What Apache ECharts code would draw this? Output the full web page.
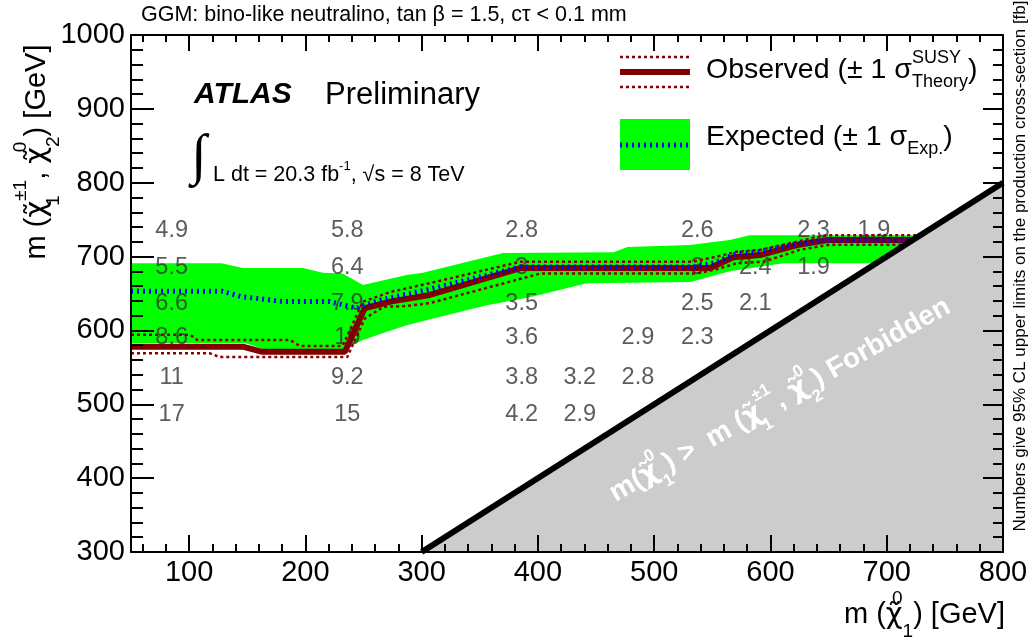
<!DOCTYPE html>
<html><head><meta charset="utf-8">
<script src="https://cdn.jsdelivr.net/npm/echarts@6/dist/echarts.min.js"></script>
<style>html,body{margin:0;padding:0;background:#fff;}#c{width:1036px;height:641px;}</style>
</head><body><div id="c"></div>
<script>
const FF = "'Liberation Sans', Arial, Helvetica, sans-serif";
// ---- data ----
const xMajorTicks = [100,200,300,400,500,600,700,800];
const xMinorTicks = [60,80,120,140,160,180,220,240,260,280,320,340,360,380,420,440,460,480,520,540,560,580,620,640,660,680,720,740,760,780];
const observed = [[50,578],[146,578],[163,571],[234,571],[251,630],[273,639],[307,648],[385,684.5],[548,684.5],[568,699],[591,702],[623,715.6],[649,722.4],[722.4,722.4]];
const observedUp = [[50,594],[101,594],[107,587],[187,587],[195,579],[232,579],[249.5,639],[273,652],[307,664],[385,693],[533,693],[554,700],[571,706.6],[591,709],[622.5,720],[648,729],[729,729]];
const observedDown = [[50,569],[118,569],[126,564],[236,564],[251,616],[267,632],[287,633],[307,637],[402,677],[536,677],[554,683],[571,691],[594,693],[625,709],[651,716],[716,716]];
const expected = [[50,653],[129,653],[144,646],[181,639],[221,639],[244,630],[250,634],[264,641],[307,656],[385,686],[533,686],[551,691],[571,704],[591,707],[622,717],[645,722],[722,722]];
const bandUpper = [[50,691],[128,691],[146,684.5],[198,684.5],[215,678],[232,677],[249.5,661.5],[287,675],[301,678],[370,705],[465,706],[477,713],[531,715.6],[551,719.7],[565,722.4],[582,729],[729,729]];
const bandLower = [[50,583],[148,583],[163.5,575],[234,575],[249.5,587],[267,596.5],[287,607],[322,621],[356,634],[393,645],[442,664],[531,665.6],[565,680],[611,691],[691,691]];
const forbiddenRegion = [[300,300],[800,800],[800,300]];
const forbiddenEdge = [[300,300],[800,800]];
const limitLabels = [
 [85,735,'4.9'],[236,735,'5.8'],[386,735,'2.8'],[537,735,'2.6'],[637,735,'2.3'],[689,735,'1.9'],
 [85,685,'5.5'],[236,685,'6.4'],[386,685,'3'],[537,685,'3'],[587,685,'2.4'],[637,685,'1.9'],
 [85,636,'6.6'],[236,636,'7.9'],[386,636,'3.5'],[537,636,'2.5'],[587,636,'2.1'],
 [85,590,'8.6'],[236,590,'10'],[386,590,'3.6'],[486,590,'2.9'],[537,590,'2.3'],
 [85,536,'11'],[236,536,'9.2'],[386,536,'3.8'],[436,536,'3.2'],[486,536,'2.8'],
 [85,486,'17'],[236,486,'15'],[386,486,'4.2'],[436,486,'2.9']
];
// ---- helpers ----
const CHIFF = "'DejaVu Sans', sans-serif";
function richSet(base, small, extra){
  const s = Object.assign({fontSize: small, lineHeight: small, fontFamily: FF}, extra||{});
  return {
    sup: Object.assign({}, s, {verticalAlign:'top'}),
    sub: Object.assign({}, s, {verticalAlign:'bottom'}),
    supz: Object.assign({}, s, {verticalAlign:'top', width:0.01}),
    subz: Object.assign({}, s, {verticalAlign:'bottom', width:0.01}),
    chi: Object.assign({}, extra||{}, {fontSize: base, fontFamily: CHIFF})
  };
}
const CHI = '{chi|χ\u0303}';
const blackAxis = {color:'#000', width:2};
function xAx(pos, len, vals, showLine, showLabel){
  return {type:'value', min:50, max:800, position:pos, z:10,
    axisLine:{show:showLine, onZero:false, lineStyle:blackAxis},
    axisTick:{show:true, inside:true, length:len, customValues:vals, lineStyle:blackAxis},
    axisLabel:{show:showLabel, customValues:vals, fontSize:29, color:'#000', fontFamily:FF, margin:6},
    splitLine:{show:false}};
}
function yAx(pos, len, mlen, showLabel){
  return {type:'value', min:300, max:1000, interval:100, position:pos, z:10,
    axisLine:{show:true, onZero:false, lineStyle:blackAxis},
    axisTick:{show:true, inside:true, length:len, lineStyle:blackAxis},
    minorTick:{show:true, splitNumber:5, length:mlen, lineStyle:blackAxis},
    axisLabel:{show:showLabel, formatter:v => String(v), fontSize:29, color:'#000', fontFamily:FF, margin:6},
    splitLine:{show:false}};
}
function polySeries(getPts, color, z){
  return {type:'custom', z:z, silent:true, clip:true, data:[[50,300]],
    renderItem:function(params, api){
      const pts = getPts().map(p => api.coord(p));
      return {type:'polygon', shape:{points:pts}, style:{fill:color}};
    }};
}
function lineSeries(data, color, width, dash, z){
  return {type:'line', data:data, z:z, symbol:'none', silent:true, clip:true,
    lineStyle:{color:color, width:width, type:dash||'solid'}};
}
const chart = echarts.init(document.getElementById('c'), null, {renderer:'canvas'});
const option = {
  animation:false,
  backgroundColor:'#fff',
  grid:{left:131, top:35, width:872, height:517, containLabel:false},
  xAxis:[xAx('bottom',17,xMajorTicks,true,true), xAx('bottom',8,xMinorTicks,false,false),
         xAx('top',16,xMajorTicks,true,false), xAx('top',7,xMinorTicks,false,false)],
  yAxis:[yAx('left',23,12,true), yAx('right',20,10,false)],
  series:[
    polySeries(() => bandUpper.concat(bandLower.slice().reverse()), '#00ff00', 1),
    polySeries(() => forbiddenRegion, '#cccccc', 1),
    {type:'scatter', z:3, silent:true, symbolSize:1, itemStyle:{color:'rgba(0,0,0,0)'},
     data:limitLabels,
     label:{show:true, position:'inside', formatter:p => limitLabels[p.dataIndex][2],
            fontSize:23.5, color:'#333', fontFamily:FF}},
    lineSeries(observed, '#800000', 6, 'solid', 4),
    lineSeries(observedUp, '#8b0000', 2.5, [3,3], 5),
    lineSeries(observedDown, '#8b0000', 2.5, [3,3], 5),
    lineSeries(expected, '#0000ff', 5, [2,4], 6),
    lineSeries(forbiddenEdge, '#000', 6, 'solid', 7)
  ],
  graphic:[
    {type:'text', z:20, style:{x:141, y:15, text:'GGM: bino-like neutralino, tan β = 1.5, cτ < 0.1 mm', fontSize:21.5, fontFamily:FF, fill:'#000', verticalAlign:'middle'}},
    {type:'text', z:20, style:{x:194, y:95, text:'ATLAS', fontSize:30, fontWeight:'bold', fontStyle:'italic', fontFamily:FF, fill:'#000', verticalAlign:'middle'}},
    {type:'text', z:20, style:{x:325, y:95, text:'Preliminary', fontSize:31, fontFamily:FF, fill:'#000', verticalAlign:'middle'}},
    {type:'text', z:20, style:{x:191, y:158, text:'∫', fontSize:56, fontFamily:"'Liberation Serif', serif", fill:'#000', verticalAlign:'middle'}},
    {type:'text', z:20, style:{x:213, y:175, text:'L dt = 20.3 fb{sup|-1}, √s = 8 TeV', fontSize:21.5, lineHeight:30, fontFamily:FF, fill:'#000', verticalAlign:'middle', rich:richSet(21.5,13,{fill:'#000'})}},
    // legend
    {type:'line', z:20, shape:{x1:620,y1:57,x2:690,y2:57}, style:{stroke:'#8b0000', lineWidth:2.5, lineDash:[3,3]}},
    {type:'line', z:20, shape:{x1:620,y1:72,x2:690,y2:72}, style:{stroke:'#800000', lineWidth:6}},
    {type:'line', z:20, shape:{x1:620,y1:87,x2:690,y2:87}, style:{stroke:'#8b0000', lineWidth:2.5, lineDash:[3,3]}},
    {type:'text', z:20, style:{x:706, y:70, text:'Observed (± 1 σ{supz|SUSY}{sub|Theory})', fontSize:28.5, lineHeight:42, fontFamily:FF, fill:'#000', verticalAlign:'middle', rich:richSet(28.5,18,{fill:'#000'})}},
    {type:'rect', z:20, shape:{x:620,y:119,width:70,height:51}, style:{fill:'#00ff00'}},
    {type:'line', z:21, shape:{x1:620,y1:145,x2:690,y2:145}, style:{stroke:'#0000ff', lineWidth:5, lineDash:[2,4]}},
    {type:'text', z:20, style:{x:706, y:137, text:'Expected (± 1 σ{sub|Exp.})', fontSize:28.5, lineHeight:42, fontFamily:FF, fill:'#000', verticalAlign:'middle', rich:richSet(28.5,18,{fill:'#000'})}},
    // axis titles
    {type:'text', z:20, x:1005, y:615, style:{x:0, y:0, text:'m ('+CHI+'{supz|0}{sub|1}) [GeV]', fontSize:29, lineHeight:52, fontFamily:FF, fill:'#000', align:'right', verticalAlign:'middle', rich:richSet(29,19,{fill:'#000'})}},
    {type:'text', z:20, x:37, y:152, rotation:Math.PI/2, style:{x:0, y:0, text:'m ('+CHI+'{subz|1}{sup|±1}, '+CHI+'{supz|0}{sub|2}) [GeV]', fontSize:29, lineHeight:52, fontFamily:FF, fill:'#000', align:'center', verticalAlign:'middle', rich:richSet(29,19,{fill:'#000'})}},
    {type:'text', z:20, x:1020, y:266, rotation:Math.PI/2, style:{x:0, y:0, text:'Numbers give 95% CL upper limits on the production cross-section [fb]', fontSize:17, fontFamily:FF, fill:'#000', align:'center', verticalAlign:'middle'}},
    {type:'text', z:20, x:780, y:400, rotation:0.515, style:{x:0, y:0, text:'m('+CHI+'{supz|0}{sub|1}) >  m ('+CHI+'{subz|1}{sup|±1}, '+CHI+'{supz|0}{sub|2}) Forbidden', fontSize:28, fontWeight:'bold', lineHeight:48, fontFamily:FF, fill:'#fff', align:'center', verticalAlign:'middle', rich:richSet(28,17,{fill:'#fff', fontWeight:'bold'})}}
  ]
};
chart.setOption(option);
</script></body></html>
